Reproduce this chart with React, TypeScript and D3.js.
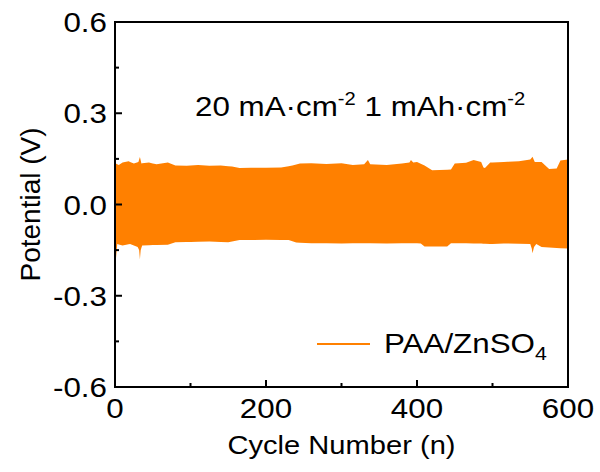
import * as d3 from 'd3'

// envelope of the voltage profile (V)
const upperCycles = [0, 5, 10, 18, 25, 31, 33, 35, 45, 55, 70, 80, 95, 110, 125, 140, 155, 165, 180, 200, 220, 235, 245, 260, 280, 300, 315, 330, 335, 338, 360, 380, 390, 392, 395, 400, 410, 420, 445, 450, 465, 475, 485, 488, 490, 497, 515, 535, 550, 553, 556, 565, 575, 585, 590, 600]
const upperV = [0.136, 0.13, 0.138, 0.142, 0.135, 0.14, 0.156, 0.135, 0.138, 0.132, 0.138, 0.128, 0.127, 0.13, 0.127, 0.128, 0.125, 0.12, 0.121, 0.121, 0.122, 0.128, 0.135, 0.136, 0.133, 0.136, 0.13, 0.132, 0.146, 0.132, 0.13, 0.135, 0.138, 0.146, 0.138, 0.14, 0.128, 0.113, 0.115, 0.135, 0.137, 0.146, 0.14, 0.122, 0.12, 0.138, 0.14, 0.142, 0.148, 0.157, 0.14, 0.14, 0.117, 0.118, 0.145, 0.148]

const lowerCycles = [0, 1, 3, 10, 20, 30, 32, 33, 34, 36, 50, 70, 80, 100, 125, 150, 165, 200, 230, 240, 260, 300, 330, 360, 380, 405, 410, 440, 445, 480, 500, 520, 550, 552, 553, 555, 558, 565, 600]
const lowerV = [-0.13, -0.185, -0.13, -0.135, -0.13, -0.14, -0.15, -0.18, -0.15, -0.135, -0.133, -0.132, -0.124, -0.123, -0.122, -0.124, -0.117, -0.116, -0.117, -0.125, -0.127, -0.128, -0.127, -0.128, -0.127, -0.128, -0.138, -0.138, -0.127, -0.128, -0.13, -0.128, -0.13, -0.145, -0.16, -0.14, -0.13, -0.14, -0.145]

const xTicks = [0, 200, 400, 600]
const xMinor = [100, 300, 500]
const yTicks = [-0.6, -0.3, 0.0, 0.3, 0.6]
const yMinor = [-0.45, -0.15, 0.15, 0.45]

const W = 600
const H = 472
const m = { left: 115, top: 22, right: 32, bottom: 85 }
const orange = '#ff8000'
const font = '"Liberation Sans", Arial, sans-serif'
const sx = 1.12

export default function App() {
  const x = d3.scaleLinear().domain([0, 600]).range([m.left, W - m.right])
  const y = d3.scaleLinear().domain([-0.6, 0.6]).range([H - m.bottom, m.top])

  // merge both envelopes onto one cycle grid for the area
  const grid = Array.from(new Set([...upperCycles, ...lowerCycles])).sort((a, b) => a - b)
  const up = (c: number) => {
    const i = d3.bisectLeft(upperCycles, c)
    if (upperCycles[i] === c) return upperV[i]
    const t = (c - upperCycles[i - 1]) / (upperCycles[i] - upperCycles[i - 1])
    return upperV[i - 1] + t * (upperV[i] - upperV[i - 1])
  }
  const lo = (c: number) => {
    const i = d3.bisectLeft(lowerCycles, c)
    if (lowerCycles[i] === c) return lowerV[i]
    const t = (c - lowerCycles[i - 1]) / (lowerCycles[i] - lowerCycles[i - 1])
    return lowerV[i - 1] + t * (lowerV[i] - lowerV[i - 1])
  }
  const area = d3
    .area<number>()
    .x((c) => x(c))
    .y0((c) => y(lo(c)))
    .y1((c) => y(up(c)))

  const x0 = x(0)
  const x1 = x(600)
  const yb = y(-0.6)
  const yt = y(0.6)

  // plain hyphen minus, like the original
  const fmt = (v: number) => d3.format('.1f')(v).replace('\u2212', '-')

  return (
    <svg width={W} height={H} style={{ position: 'absolute', left: 0, top: 0 }} fontFamily={font}>
      <rect width={W} height={H} fill="#fff" />
      <path d={area(grid) || ''} fill={orange} />

      {/* frame */}
      <rect x={x0} y={yt} width={x1 - x0} height={yb - yt} fill="none" stroke="#000" strokeWidth={2} />

      {/* y ticks */}
      {yTicks.map((v) => (
        <g key={'yt' + v}>
          <line x1={x0} x2={x0 + 7} y1={y(v)} y2={y(v)} stroke="#000" strokeWidth={2} />
          <text transform={`translate(${x0 - 8},${y(v) + 10}) scale(${sx},1)`} textAnchor="end" fontSize={28}>
            {fmt(v)}
          </text>
        </g>
      ))}
      {yMinor.map((v) => (
        <line key={'ym' + v} x1={x0} x2={x0 + 4} y1={y(v)} y2={y(v)} stroke="#000" strokeWidth={2} />
      ))}

      {/* x ticks */}
      {xTicks.map((v) => (
        <g key={'xt' + v}>
          <line x1={x(v)} x2={x(v)} y1={yb} y2={yb - 7} stroke="#000" strokeWidth={2} />
          <text transform={`translate(${x(v)},${yb + 31}) scale(${sx},1)`} textAnchor="middle" fontSize={28}>
            {v}
          </text>
        </g>
      ))}
      {xMinor.map((v) => (
        <line key={'xm' + v} x1={x(v)} x2={x(v)} y1={yb} y2={yb - 4} stroke="#000" strokeWidth={2} />
      ))}

      {/* axis titles */}
      <text transform={`translate(${(x0 + x1) / 2},${H - 18}) scale(${sx},1)`} textAnchor="middle" fontSize={26}>
        Cycle Number (n)
      </text>
      <text transform={`translate(40,${(yt + yb) / 2}) rotate(-90)`} textAnchor="middle" fontSize={28}>
        Potential (V)
      </text>

      {/* condition label */}
      <text transform={`translate(195,116) scale(${sx},1)`} fontSize={28}>
        20 mA·cm<tspan dy={-11} fontSize={18}>-2</tspan>
        <tspan dy={11}> 1 mAh·cm</tspan>
        <tspan dy={-11} fontSize={18}>-2</tspan>
      </text>

      {/* legend */}
      <line x1={317} x2={370} y1={344} y2={344} stroke={orange} strokeWidth={2} />
      <text transform={`translate(384,353) scale(${sx},1)`} fontSize={28}>
        PAA/ZnSO<tspan dy={7} fontSize={19}>4</tspan>
      </text>
    </svg>
  )
}
